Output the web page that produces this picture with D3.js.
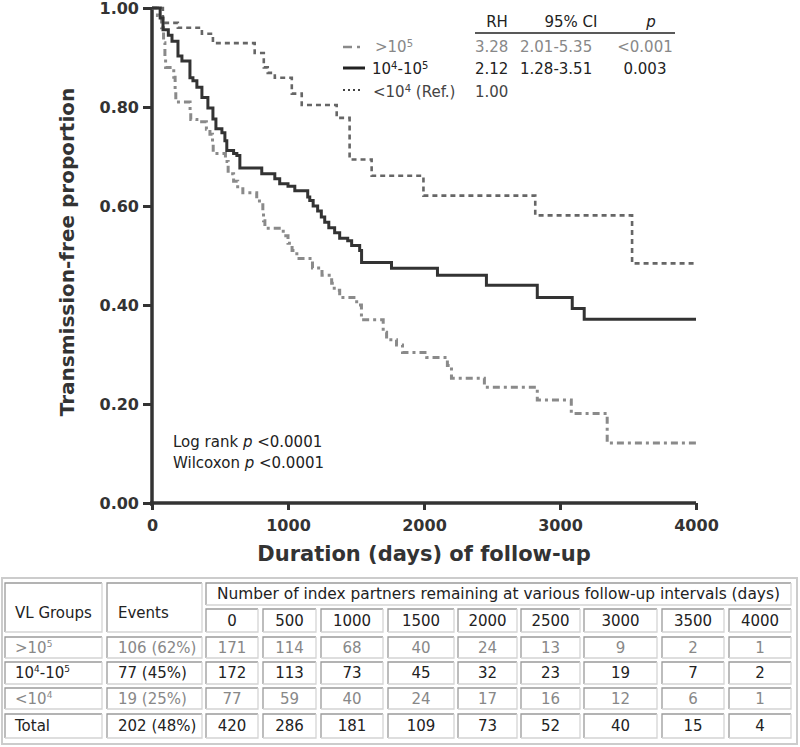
<!DOCTYPE html>
<html>
<head>
<meta charset="utf-8">
<script src="https://cdn.jsdelivr.net/npm/d3@7"></script>
<style>
  html, body { margin: 0; padding: 0; background: #fff; }
  svg { display: block; font-family: "DejaVu Sans", Verdana, sans-serif; }
</style>
</head>
<body>
<svg id="chart" width="800" height="747"></svg>
<script>
// ---------------- DATA ----------------
// Kaplan–Meier curves (days, transmission-free proportion)
const highDays = [0, 40, 70, 85, 95, 100, 160, 170, 175, 280, 285, 330, 400, 426, 445, 450, 540, 560, 600, 630, 668, 770, 815, 820, 830, 965, 1000, 1030, 1065, 1180, 1250, 1321, 1340, 1380, 1505, 1540, 1700, 1725, 1798, 1842, 2020, 2172, 2202, 2444, 2833, 3083, 3347, 4000];
const highProp = [1.0, 0.985, 0.96, 0.93, 0.90, 0.88, 0.86, 0.835, 0.81, 0.79, 0.775, 0.77, 0.755, 0.745, 0.725, 0.706, 0.69, 0.665, 0.65, 0.635, 0.627, 0.61, 0.59, 0.57, 0.555, 0.54, 0.525, 0.51, 0.494, 0.475, 0.46, 0.444, 0.43, 0.415, 0.40, 0.37, 0.345, 0.33, 0.319, 0.304, 0.294, 0.278, 0.252, 0.234, 0.208, 0.181, 0.121, 0.121];

const midDays = [0, 60, 81, 120, 147, 191, 220, 279, 301, 330, 367, 411, 448, 470, 514, 536, 550, 600, 624, 646, 807, 903, 939, 1000, 1050, 1145, 1160, 1185, 1218, 1245, 1270, 1300, 1343, 1380, 1439, 1468, 1527, 1541, 1761, 2099, 2459, 2833, 3090, 3178, 4000];
const midProp = [1.0, 0.98, 0.956, 0.945, 0.933, 0.903, 0.893, 0.859, 0.853, 0.84, 0.819, 0.798, 0.776, 0.756, 0.748, 0.732, 0.712, 0.706, 0.702, 0.677, 0.665, 0.655, 0.645, 0.64, 0.631, 0.618, 0.611, 0.60, 0.59, 0.578, 0.567, 0.556, 0.546, 0.535, 0.53, 0.52, 0.51, 0.486, 0.474, 0.46, 0.44, 0.415, 0.393, 0.371, 0.371];

const lowDays = [0, 80, 190, 367, 448, 755, 822, 851, 903, 1028, 1101, 1358, 1453, 1615, 1996, 2818, 3530, 4000];
const lowProp = [1.0, 0.97, 0.96, 0.948, 0.929, 0.909, 0.88, 0.869, 0.859, 0.827, 0.804, 0.778, 0.694, 0.661, 0.621, 0.581, 0.484, 0.484];

const xTicks = [0, 1000, 2000, 3000, 4000];
const yTicks = [0, 0.2, 0.4, 0.6, 0.8, 1.0];

// Legend / hazard table
const legendLabels = [">10^{5}", "10^{4}-10^{5}", "<10^{4} (Ref.)"];
const legendRH = ["3.28", "2.12", "1.00"];
const legendCI = ["2.01-5.35", "1.28-3.51", ""];
const legendP = ["<0.001", "0.003", ""];
const legendHeaders = ["RH", "95% CI", "p"];

// Number-at-risk table
const intervalDays = ["0", "500", "1000", "1500", "2000", "2500", "3000", "3500", "4000"];
const vlGroups = [">10^{5}", "10^{4}-10^{5}", "<10^{4}", "Total"];
const eventCounts = ["106 (62%)", "77 (45%)", "19 (25%)", "202 (48%)"];
const riskHigh = [171, 114, 68, 40, 24, 13, 9, 2, 1];
const riskMid = [172, 113, 73, 45, 32, 23, 19, 7, 2];
const riskLow = [77, 59, 40, 24, 17, 16, 12, 6, 1];
const riskTotal = [420, 286, 181, 109, 73, 52, 40, 15, 4];

// ---------------- LAYOUT ----------------
const svg = d3.select("#chart");
const x = d3.scaleLinear().domain([0, 4000]).range([152, 696]);
const y = d3.scaleLinear().domain([0, 1]).range([503, 8]);

const axisColor = "#333";
const grayTxt = "#888";
const darkTxt = "#222";

// helper: text with ^{...} superscripts
function richText(sel, str, supSize, supDy) {
  const parts = str.split(/(\^\{[^}]*\})/).filter(s => s.length);
  let raised = false;
  parts.forEach(p => {
    const m = p.match(/^\^\{([^}]*)\}$/);
    if (m) {
      sel.append("tspan").attr("font-size", supSize).attr("dy", -supDy).text(m[1]);
      raised = true;
    } else {
      const t = sel.append("tspan").text(p);
      if (raised) { t.attr("dy", supDy); raised = false; }
    }
  });
}

// ---------------- AXES ----------------
const yAxis = d3.axisLeft(y).tickValues(yTicks).tickFormat(d3.format(".2f")).tickSize(9).tickPadding(4);
const gy = svg.append("g").attr("transform", "translate(152,0)").call(yAxis);
const xAxis = d3.axisBottom(x).tickValues(xTicks).tickFormat(d3.format("d")).tickSize(7).tickPadding(6);
const gx = svg.append("g").attr("transform", "translate(0,503)").call(xAxis);

[gx, gy].forEach(g => {
  g.select(".domain").attr("stroke", axisColor).attr("stroke-width", 3.5);
  g.selectAll(".tick line").attr("stroke", axisColor).attr("stroke-width", 3);
  g.selectAll(".tick text").attr("fill", "#333").attr("font-size", 16).attr("font-weight", "bold")
    .attr("font-family", "'DejaVu Sans', sans-serif");
});
gy.select(".domain").attr("d", "M0,8V506");
gx.select(".domain").attr("d", "M150,0H696");
gx.selectAll(".tick text").attr("dy", "0.95em");

svg.append("text")
  .attr("transform", "translate(74,252) rotate(-90)")
  .attr("text-anchor", "middle").attr("font-size", 20).attr("font-weight", "bold").attr("fill", "#333")
  .text("Transmission-free proportion");

svg.append("text")
  .attr("x", 424).attr("y", 561)
  .attr("text-anchor", "middle").attr("font-size", 21).attr("font-weight", "bold").attr("fill", "#333")
  .text("Duration (days) of follow-up");

// ---------------- CURVES ----------------
const line = d3.line().x(d => x(d[0])).y(d => y(d[1])).curve(d3.curveStepAfter);
const zip = (a, b) => a.map((v, i) => [v, b[i]]);

svg.append("path").datum(zip(lowDays, lowProp)).attr("d", line)
  .attr("fill", "none").attr("stroke", "#666").attr("stroke-width", 2.6).attr("stroke-dasharray", "5,4");
svg.append("path").datum(zip(highDays, highProp)).attr("d", line)
  .attr("fill", "none").attr("stroke", "#8a8a8a").attr("stroke-width", 3).attr("stroke-dasharray", "7,4,3,4");
svg.append("path").datum(zip(midDays, midProp)).attr("d", line)
  .attr("fill", "none").attr("stroke", "#333").attr("stroke-width", 3);

// ---------------- LEGEND ----------------
const legendColors = [grayTxt, darkTxt, "#444"];
const legendBase = [52, 74, 97];
const lg = svg.append("g").attr("font-size", 15);

// headers
const hdrX = [497, 571, 651];
legendHeaders.forEach((h, i) => {
  lg.append("text").attr("x", hdrX[i]).attr("y", 27).attr("text-anchor", "middle")
    .attr("fill", darkTxt).attr("font-style", i === 2 ? "italic" : "normal").text(h);
});
lg.append("line").attr("x1", 475).attr("x2", 675).attr("y1", 33).attr("y2", 33)
  .attr("stroke", "#222").attr("stroke-width", 1.5);

// symbols
lg.append("line").attr("x1", 343).attr("x2", 363).attr("y1", 47).attr("y2", 47)
  .attr("stroke", "#8a8a8a").attr("stroke-width", 2.5).attr("stroke-dasharray", "9,5,3,10");
lg.append("line").attr("x1", 343).attr("x2", 365).attr("y1", 68).attr("y2", 68)
  .attr("stroke", "#222").attr("stroke-width", 3);
lg.append("line").attr("x1", 343).attr("x2", 363).attr("y1", 90).attr("y2", 90)
  .attr("stroke", "#444").attr("stroke-width", 2).attr("stroke-dasharray", "2,3");

const labelX = [375, 372, 373];
legendLabels.forEach((lab, i) => {
  const t = lg.append("text").attr("x", labelX[i]).attr("y", legendBase[i]).attr("fill", legendColors[i]);
  richText(t, lab, 10, 5);
  lg.append("text").attr("x", 475).attr("y", legendBase[i]).attr("fill", legendColors[i]).text(legendRH[i]);
  lg.append("text").attr("x", 520).attr("y", legendBase[i]).attr("fill", legendColors[i]).text(legendCI[i]);
  lg.append("text").attr("x", 645).attr("y", legendBase[i]).attr("text-anchor", "middle")
    .attr("fill", legendColors[i]).text(legendP[i]);
});

// Log rank / Wilcoxon
const stats = [["Log rank ", "p", " <0.0001"], ["Wilcoxon ", "p", " <0.0001"]];
stats.forEach((s, i) => {
  const t = svg.append("text").attr("x", 173).attr("y", 447 + i * 21).attr("font-size", 15).attr("fill", darkTxt);
  t.append("tspan").text(s[0]);
  t.append("tspan").attr("font-style", "italic").text(s[1]);
  t.append("tspan").text(s[2]);
});

// ---------------- AT-RISK TABLE ----------------
const colEdges = [[5, 102], [107, 202], [206, 258], [263, 316], [321, 383], [388, 454], [458, 517], [521, 580], [584, 657], [662, 724], [729, 791]];
const rowEdges = [[637, 658], [662, 684], [688, 709], [714, 738]];
const tg = svg.append("g").attr("font-size", 15);

// outer frame
tg.append("rect").attr("x", 2).attr("y", 578).attr("width", 795).attr("height", 166)
  .attr("fill", "#fff").attr("stroke", "#ccc").attr("stroke-width", 2);

function cell(x0, x1, y0, y1) {
  const g = tg.append("g");
  g.append("rect").attr("x", x0).attr("y", y0).attr("width", x1 - x0).attr("height", y1 - y0).attr("fill", "#fff");
  g.append("path").attr("d", `M${x0},${y1}V${y0}H${x1}`).attr("fill", "none").attr("stroke", "#9a9a9a").attr("stroke-width", 1.3);
  g.append("path").attr("d", `M${x1},${y0}V${y1}H${x0}`).attr("fill", "none").attr("stroke", "#d4d4d4").attr("stroke-width", 1.3);
}

// header cells
cell(colEdges[0][0], colEdges[0][1], 583, 632);
cell(colEdges[1][0], colEdges[1][1], 583, 632);
cell(colEdges[2][0], colEdges[10][1], 583, 605);
tg.append("text").attr("x", 15).attr("y", 618).attr("fill", darkTxt).text("VL Groups");
tg.append("text").attr("x", 118).attr("y", 618).attr("fill", darkTxt).text("Events");
tg.append("text").attr("x", (colEdges[2][0] + colEdges[10][1]) / 2).attr("y", 599).attr("text-anchor", "middle")
  .attr("font-size", 15.4).attr("fill", darkTxt)
  .text("Number of index partners remaining at various follow-up intervals (days)");
intervalDays.forEach((d, i) => {
  const c = colEdges[i + 2];
  cell(c[0], c[1], 609, 632);
  tg.append("text").attr("x", (c[0] + c[1]) / 2).attr("y", 626).attr("text-anchor", "middle")
    .attr("fill", darkTxt).text(d);
});

// data rows
const riskRows = [riskHigh, riskMid, riskLow, riskTotal];
const rowColors = [grayTxt, darkTxt, grayTxt, darkTxt];
riskRows.forEach((vals, r) => {
  const [y0, y1] = rowEdges[r];
  const base = (y0 + y1) / 2 + 5;
  colEdges.forEach(c => cell(c[0], c[1], y0, y1));
  const t = tg.append("text").attr("x", 15).attr("y", base).attr("fill", rowColors[r]);
  richText(t, vlGroups[r], 9, 6);
  tg.append("text").attr("x", 118).attr("y", base).attr("fill", rowColors[r]).text(eventCounts[r]);
  vals.forEach((v, i) => {
    const c = colEdges[i + 2];
    tg.append("text").attr("x", (c[0] + c[1]) / 2).attr("y", base).attr("text-anchor", "middle")
      .attr("fill", rowColors[r]).text(v);
  });
});
</script>
</body>
</html>
